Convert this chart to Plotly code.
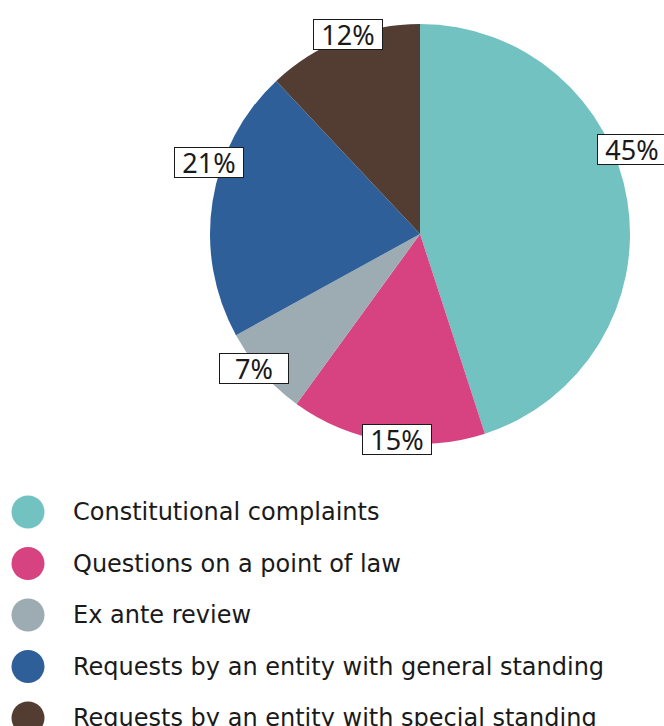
import plotly.graph_objects as go

# Share of cases by type of proceeding
categories = [
    "Constitutional complaints",
    "Questions on a point of law",
    "Ex ante review",
    "Requests by an entity with general standing",
    "Requests by an entity with special standing",
]
shares = [45, 15, 7, 21, 12]
colors = ["#72C2C1", "#D64380", "#9DABB2", "#2E5F98", "#533D33"]

W, H = 664, 726

# Pie geometry (pixels)
CX, CY, R = 420, 234, 210

# Percentage label box centres (pixels), one per slice
label_pos = [(632, 149), (397, 439), (254, 368), (209, 162), (348, 34)]

# Legend layout (pixels)
LEG_X_DOT, LEG_X_TEXT, LEG_Y0, LEG_DY = 28, 71, 512, 51.5

TEXT = "#1a1a1a"
LEG_FONT = "DejaVu Sans"
LBL_FONT = "Noto Sans"

fig = go.Figure()

fig.add_trace(go.Pie(
    labels=categories,
    values=shares,
    sort=False,
    direction="clockwise",
    rotation=0,
    marker=dict(colors=colors, line=dict(width=0)),
    textinfo="none",
    hoverinfo="label+percent",
    showlegend=False,
    domain=dict(x=[(CX - R) / W, (CX + R) / W], y=[1 - (CY + R) / H, 1 - (CY - R) / H]),
))

# Custom legend: circle markers on a pixel-scaled hidden axis
leg_y = [LEG_Y0 + i * LEG_DY for i in range(len(categories))]
fig.add_trace(go.Scatter(
    x=[LEG_X_DOT] * len(categories),
    y=leg_y,
    mode="markers",
    marker=dict(size=33, color=colors, line=dict(width=0)),
    hoverinfo="skip",
    showlegend=False,
))

annotations = []
for cat, y in zip(categories, leg_y):
    annotations.append(dict(
        x=LEG_X_TEXT, y=y, xref="x", yref="y",
        text=cat, showarrow=False, xanchor="left", yanchor="middle",
        font=dict(family=LEG_FONT, size=24, color=TEXT),
    ))

for v, (lx, ly) in zip(shares, label_pos):
    annotations.append(dict(
        x=lx, y=ly, xref="x", yref="y",
        text=f"{v}%", showarrow=False, xanchor="center", yanchor="middle",
        font=dict(family=LBL_FONT, size=27, color=TEXT),
        bgcolor="white", bordercolor="#1a1a1a", borderwidth=1, borderpad=1,
        width=66, height=27,
    ))

fig.update_layout(
    width=W, height=H,
    margin=dict(l=0, r=0, t=0, b=0),
    paper_bgcolor="white", plot_bgcolor="rgba(0,0,0,0)",
    xaxis=dict(range=[0, W], visible=False, fixedrange=True, domain=[0, 1]),
    yaxis=dict(range=[H, 0], visible=False, fixedrange=True, domain=[0, 1]),
    annotations=annotations,
    showlegend=False,
)

fig.write_html("out.html")
